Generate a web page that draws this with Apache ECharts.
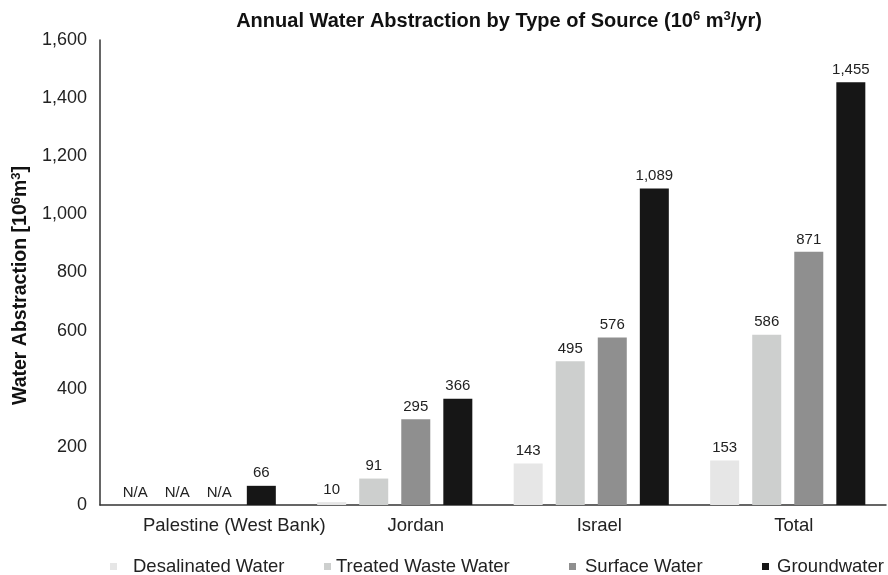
<!DOCTYPE html>
<html><head><meta charset="utf-8">
<script src="https://cdn.jsdelivr.net/npm/echarts@6/dist/echarts.min.js"></script>
<style>html,body{margin:0;padding:0;background:#fff}#c{width:888px;height:575px}</style>
</head><body><div id="c"></div>
<script>
const categories = ['Palestine (West Bank)', 'Jordan', 'Israel', 'Total'];
const seriesNames = ['Desalinated Water', 'Treated Waste Water', 'Surface Water', 'Groundwater'];
const desalinated = [null, 10, 143, 153];
const treatedWaste = [null, 91, 495, 586];
const surface = [null, 295, 576, 871];
const groundwater = [66, 366, 1089, 1455];
const yTicks = [0, 200, 400, 600, 800, 1000, 1200, 1400, 1600];
const colors = ['#e6e6e6', '#cdcfce', '#8f8f8f', '#161616'];
const FONT = 'Liberation Sans, Arial, Helvetica, sans-serif';

const allData = [desalinated, treatedWaste, surface, groundwater];
const fmt = v => v.toLocaleString('en-US');

const legendLefts = [105, 319, 564, 757];
const legendPads = [11, 0, 4, 3];
const labelShift = [36, 21, 8, 6];
const xRich = {};
labelShift.forEach((s, i) => {
  xRich['c' + i] = { fontFamily: FONT, fontSize: 18.5, color: '#222', padding: [0, 0, 0, 2 * s] };
});

const chart = echarts.init(document.getElementById('c'));
chart.setOption({
  animation: false,
  textStyle: { fontFamily: FONT },
  title: {
    text: '{t|Annual Water Abstraction by Type of Source (10}{s|6}{t| m}{s|3}{t|/yr)}',
    left: 494, top: 5, textAlign: 'center',
    textStyle: {
      rich: {
        t: { fontFamily: FONT, fontWeight: 'bold', fontSize: 20, color: '#111' },
        s: { fontFamily: FONT, fontWeight: 'bold', fontSize: 13, color: '#111', padding: [0, 0, 9, 0] }
      }
    }
  },
  legend: seriesNames.map((n, i) => ({
    data: [n], left: legendLefts[i], top: 552, icon: 'rect', itemWidth: 7, itemHeight: 7,
    textStyle: { fontFamily: FONT, fontSize: 18.5, color: '#222', padding: [0, 0, 0, legendPads[i]] }
  })),
  grid: { left: 100, right: 2, top: 40, bottom: 70, containLabel: false },
  xAxis: {
    type: 'category', data: categories,
    axisLine: { lineStyle: { color: '#333', width: 1.5 } },
    axisTick: { show: false },
    axisLabel: {
      fontFamily: FONT, fontSize: 18.5, color: '#222', margin: 11, interval: 0,
      formatter: (v, i) => '{c' + i + '|' + v + '}',
      rich: xRich
    }
  },
  yAxis: {
    type: 'value', min: yTicks[0], max: yTicks[yTicks.length - 1], interval: 200,
    name: '{t|Water Abstraction [10}{s|6}{t|m}{s|3}{t|]}',
    nameLocation: 'middle', nameGap: 68, nameRotate: 90,
    nameTextStyle: {
      padding: [0, 26, 0, 0],
      rich: {
        t: { fontFamily: FONT, fontWeight: 'bold', fontSize: 19.5, color: '#111' },
        s: { fontFamily: FONT, fontWeight: 'bold', fontSize: 13, color: '#111', padding: [0, 0, 9, 0] }
      }
    },
    axisLine: { show: true, lineStyle: { color: '#333', width: 1.5 } },
    axisTick: { show: false },
    splitLine: { show: false },
    axisLabel: { fontFamily: FONT, fontSize: 18, color: '#222', margin: 13, formatter: v => fmt(v) }
  },
  series: seriesNames.map((n, i) => ({
    name: n, type: 'bar', barWidth: 29, barGap: '45%',
    itemStyle: { color: colors[i] },
    data: allData[i].map(v => v === null ? { value: 0, na: true } : v),
    label: {
      show: true, position: 'top', distance: 5, fontFamily: FONT, fontSize: 15, color: '#222',
      formatter: p => (p.data && p.data.na) ? 'N/A' : fmt(p.value)
    }
  }))
});
</script></body></html>
